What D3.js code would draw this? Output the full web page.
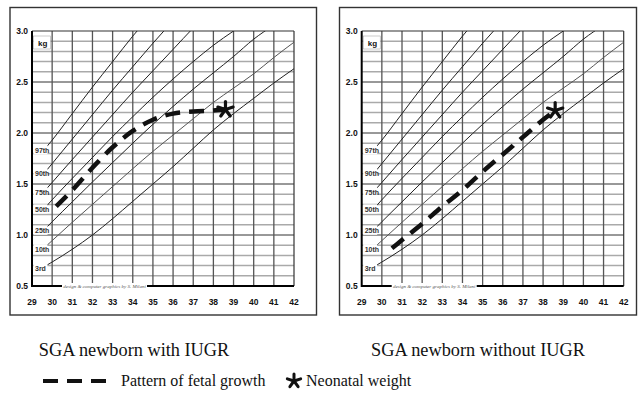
<!DOCTYPE html>
<html>
<head>
<meta charset="utf-8">
<script src="https://cdn.jsdelivr.net/npm/d3@7"></script>
<style>
  body { margin: 0; background: #fff; }
  svg { display: block; }
  .tick-lbl { font-family: 'Liberation Sans', Arial, sans-serif; font-weight: bold; font-size: 8.5px; fill: #111; }
  .pct-lbl { font-family: 'Liberation Sans', Arial, sans-serif; font-weight: bold; font-size: 7px; fill: #333; }
  .caption { font-family: 'Liberation Serif', 'Times New Roman', serif; font-size: 18.3px; fill: #111; }
  .legend-lbl { font-family: 'Liberation Serif', 'Times New Roman', serif; font-size: 16px; fill: #111; }
  .credit { font-family: 'Liberation Serif', serif; font-style: italic; font-size: 5px; fill: #555; }
</style>
</head>
<body>
<div id="vis"></div>
<script>
// percentile curves (gestational week -> kg)
var curveWeeks = [29.75, 30, 31, 32, 33, 34, 35, 36, 37, 38, 39, 40, 41, 42];
var p3  = [0.706, 0.735, 0.86, 1.00, 1.16, 1.33, 1.50, 1.67, 1.85, 2.03, 2.19, 2.34, 2.49, 2.63];
var p10 = [0.90, 0.945, 1.125, 1.30, 1.475, 1.65, 1.82, 1.98, 2.14, 2.30, 2.44, 2.58, 2.74, 2.89];
var p25 = [1.08, 1.13, 1.325, 1.52, 1.71, 1.90, 2.085, 2.26, 2.43, 2.59, 2.75, 2.92, 3.06, 3.2];
var p50 = [1.29, 1.345, 1.555, 1.76, 1.965, 2.16, 2.35, 2.53, 2.70, 2.86, 3.00, 3.13, 3.26, 3.38];
var p75 = [1.46, 1.515, 1.74, 1.96, 2.18, 2.40, 2.61, 2.82, 3.03, 3.23, 3.43, 3.62, 3.8, 3.98];
var p90 = [1.64, 1.70, 1.94, 2.18, 2.42, 2.65, 2.88, 3.10, 3.32, 3.54, 3.75, 3.96, 4.16, 4.36];
var p97 = [1.87, 1.93, 2.19, 2.45, 2.70, 2.95, 3.18, 3.41, 3.64, 3.86, 4.08, 4.3, 4.5, 4.7];
var percentiles = [p3, p10, p25, p50, p75, p90, p97];
var percentileNames = ['3rd', '10th', '25th', '50th', '75th', '90th', '97th'];

// fetal growth pattern, with IUGR (left) and without (right)
var iugrWeeks = [30.2, 31, 32, 33, 34, 35, 36, 37, 38, 38.6];
var iugrKg    = [1.28, 1.44, 1.66, 1.86, 2.02, 2.13, 2.19, 2.21, 2.22, 2.23];
var noIugrWeeks = [30.5, 31, 32, 33, 34, 35, 36, 37, 38, 38.6];
var noIugrKg    = [0.87, 0.95, 1.11, 1.28, 1.44, 1.62, 1.79, 1.96, 2.13, 2.22];
var neonatalWeek = [38.6, 38.6];
var neonatalKg = [2.23, 2.22];

var captions = ['SGA newborn with IUGR', 'SGA newborn without IUGR'];
var xTicks = d3.range(29, 43);
var yTicks = [0.5, 1.0, 1.5, 2.0, 2.5, 3.0];
var legendLabels = ['Pattern of fetal growth', 'Neonatal weight'];

var svg = d3.select('#vis').append('svg')
    .attr('width', 639)
    .attr('height', 397);

var plotTop = 31, plotBottom = 286;

function star(g, cx, cy, r, w) {
    var arms = [-90, -18, 54, 126, 198];
    arms.forEach(function (a) {
        var rad = a * Math.PI / 180;
        g.append('line')
            .attr('x1', cx).attr('y1', cy)
            .attr('x2', cx + r * Math.cos(rad)).attr('y2', cy + r * Math.sin(rad))
            .attr('stroke', '#111').attr('stroke-width', w).attr('stroke-linecap', 'round');
    });
}

var drawPanel = function (idx, boxX, boxW, left, weeks, kg, capX) {
    var right = left + 262;
    var x = d3.scaleLinear().domain([29, 42]).range([left, right]);
    var y = d3.scaleLinear().domain([0.5, 3.0]).range([plotBottom, plotTop]);
    var g = svg.append('g');

    g.append('rect')
        .attr('x', boxX).attr('y', 7.5).attr('width', boxW).attr('height', 307.5)
        .attr('fill', 'none').attr('stroke', '#333').attr('stroke-width', 1.4);

    var clipId = 'clip' + idx;
    g.append('clipPath').attr('id', clipId)
        .append('rect').attr('x', left).attr('y', plotTop).attr('width', right - left).attr('height', plotBottom - plotTop);

    // horizontal grid every 0.1 kg
    var hLines = d3.range(6, 30).map(function (d) { return d / 10; });
    var isHalf = function (d) { return Math.abs(d * 2 - Math.round(d * 2)) < 1e-6; };
    g.selectAll('.hgrid').data(hLines).enter().append('line')
        .attr('x1', left).attr('x2', right)
        .attr('y1', function (d) { return y(d); }).attr('y2', function (d) { return y(d); })
        .attr('stroke', function (d) { return isHalf(d) ? '#333' : '#aaa'; })
        .attr('stroke-width', function (d) { return isHalf(d) ? 1 : 1.5; });

    g.selectAll('.vgrid').data(d3.range(30, 42)).enter().append('line')
        .attr('x1', function (d) { return x(d); }).attr('x2', function (d) { return x(d); })
        .attr('y1', plotTop).attr('y2', plotBottom)
        .attr('stroke', '#555').attr('stroke-width', 1.3);

    // plot frame top / right
    g.append('line').attr('x1', left).attr('x2', right).attr('y1', plotTop).attr('y2', plotTop)
        .attr('stroke', '#333').attr('stroke-width', 1.2);
    g.append('line').attr('x1', right).attr('x2', right).attr('y1', plotTop).attr('y2', plotBottom)
        .attr('stroke', '#333').attr('stroke-width', 1.2);

    // percentile curves
    var line = d3.line()
        .x(function (d) { return x(d[0]); })
        .y(function (d) { return y(d[1]); })
        .curve(d3.curveMonotoneX);

    g.append('g').attr('clip-path', 'url(#' + clipId + ')')
        .selectAll('path').data(percentiles).enter().append('path')
        .attr('d', function (p) { return line(curveWeeks.map(function (w, i) { return [w, p[i]]; })); })
        .attr('fill', 'none')
        .attr('stroke', function (p, i) { return i == 1 ? '#555' : '#222'; })
        .attr('stroke-width', 1);

    // percentile labels
    percentiles.forEach(function (p, i) {
        var ly = y(p[0]) + 5;
        g.append('rect').attr('x', left + 1.5).attr('y', ly - 6).attr('width', 14).attr('height', 9).attr('fill', '#fff');
        g.append('text').attr('class', 'pct-lbl').attr('x', left + 3).attr('y', ly + 1.5).text(percentileNames[i]);
    });

    // kg label
    g.append('rect').attr('x', left + 1.5).attr('y', 36).attr('width', 17).attr('height', 13).attr('fill', '#fff')
        .attr('stroke', '#999').attr('stroke-width', 0.5);
    g.append('text').attr('class', 'tick-lbl').attr('x', left + 6).attr('y', 46).style('font-size', '8px').text('kg');

    // axes
    g.append('line').attr('x1', left).attr('x2', left).attr('y1', plotTop).attr('y2', plotBottom + 1)
        .attr('stroke', '#000').attr('stroke-width', 2);
    g.append('line').attr('x1', left).attr('x2', right).attr('y1', plotBottom).attr('y2', plotBottom)
        .attr('stroke', '#000').attr('stroke-width', 2);

    g.append('rect').attr('x', left + 30).attr('y', plotBottom - 3).attr('width', 85).attr('height', 6).attr('fill', '#fff');
    g.append('text').attr('class', 'credit').attr('x', left + 72.5).attr('y', plotBottom + 1.7)
        .attr('text-anchor', 'middle').text('design & computer graphics by S. Milani');

    g.selectAll('.ylbl').data(yTicks).enter().append('text')
        .attr('class', 'tick-lbl')
        .attr('x', left - 4).attr('y', function (d) { return y(d) + 3; })
        .attr('text-anchor', 'end')
        .text(function (d) { return d.toFixed(1); });

    g.selectAll('.xlbl').data(xTicks).enter().append('text')
        .attr('class', 'tick-lbl')
        .attr('x', function (d) { return x(d); }).attr('y', 305)
        .attr('text-anchor', 'middle')
        .text(function (d) { return d; });

    // fetal growth pattern
    g.append('path')
        .attr('d', line(weeks.map(function (w, i) { return [w, kg[i]]; })))
        .attr('fill', 'none').attr('stroke', '#111').attr('stroke-width', 4.5)
        .attr('stroke-dasharray', '15,9');

    star(g, x(neonatalWeek[idx]), y(neonatalKg[idx]), 8, 3.2);

    g.append('text').attr('class', 'caption')
        .attr('x', capX).attr('y', 356)
        .attr('text-anchor', 'middle').text(captions[idx]);
};

drawPanel(0, 10, 306.5, 32, iugrWeeks, iugrKg, 134);
drawPanel(1, 339.5, 297, 361.7, noIugrWeeks, noIugrKg, 478);

// legend
var legend = svg.append('g');
legend.append('line').attr('x1', 43).attr('x2', 112).attr('y1', 381).attr('y2', 381)
    .attr('stroke', '#111').attr('stroke-width', 4).attr('stroke-dasharray', '15,9');
legend.append('text').attr('class', 'legend-lbl').attr('x', 121).attr('y', 386).text(legendLabels[0]);
star(legend, 294, 381, 7, 3);
legend.append('text').attr('class', 'legend-lbl').attr('x', 306).attr('y', 386).text(legendLabels[1]);
</script>
</body>
</html>
